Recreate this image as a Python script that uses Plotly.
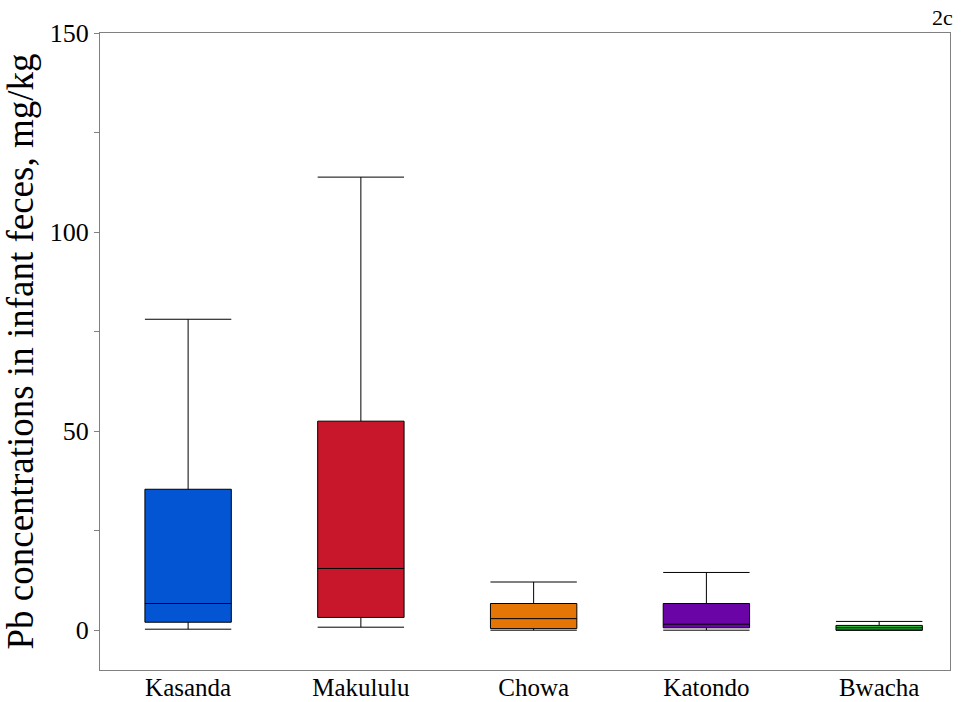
import plotly.graph_objects as go

# Pb in infant feces (mg/kg) by township: box summary statistics
sites = ["Kasanda", "Makululu", "Chowa", "Katondo", "Bwacha"]
lower_whisker = [0.25, 0.75, 0.0, 0.0, 0.0]
q1 = [2.0, 3.2, 0.4, 0.6, 0.0]
median = [6.7, 15.5, 2.9, 1.5, 0.6]
q3 = [35.4, 52.5, 6.7, 6.7, 1.2]
upper_whisker = [78.1, 113.8, 12.1, 14.5, 2.2]
colors = ["#0455D4", "#C8172A", "#E57505", "#6A04A6", "#28B436"]

y_ticks = [0, 50, 100, 150]

fig = go.Figure()
for i, name in enumerate(sites):
    fig.add_trace(go.Box(
        x=[i],
        q1=[q1[i]],
        median=[median[i]],
        q3=[q3[i]],
        lowerfence=[lower_whisker[i]],
        upperfence=[upper_whisker[i]],
        name=name,
        fillcolor=colors[i],
        line=dict(color="#000000", width=1),
        width=0.5,
        whiskerwidth=1,
        boxpoints=False,
        showlegend=False,
        hoverinfo="skip",
    ))

serif = "Liberation Serif, Times New Roman, serif"

fig.update_layout(
    width=961,
    height=702,
    margin=dict(l=100, r=11, t=33, b=32),
    plot_bgcolor="white",
    paper_bgcolor="white",
    font=dict(family=serif, color="#000000"),
    xaxis=dict(
        range=[-0.51, 4.41],
        tickmode="array",
        tickvals=list(range(len(sites))),
        ticktext=sites,
        showgrid=False,
        zeroline=False,
        showline=True,
        linecolor="#808080",
        linewidth=1,
        mirror=True,
        ticks="",
        automargin=False,
        ticklabelstandoff=-5,
        tickfont=dict(family=serif, size=25, color="#000000"),
    ),
    yaxis=dict(
        range=[-10, 150],
        tickmode="array",
        tickvals=y_ticks,
        ticktext=[str(v) for v in y_ticks],
        minor=dict(tickmode="linear", tick0=0, dtick=25, ticks="outside",
                   ticklen=5, tickcolor="#808080", showgrid=False),
        showgrid=False,
        zeroline=False,
        showline=True,
        linecolor="#808080",
        linewidth=1,
        mirror=True,
        ticks="outside",
        ticklen=5,
        tickcolor="#808080",
        automargin=False,
        tickfont=dict(family=serif, size=26, color="#000000"),
        title=dict(text="Pb concentrations in infant feces, mg/kg",
                   font=dict(family=serif, size=37, color="#000000"),
                   standoff=6),
    ),
    annotations=[dict(
        text="2c", x=1.0, y=1.0, xref="paper", yref="paper",
        xanchor="right", yanchor="bottom", xshift=5, yshift=1,
        showarrow=False,
        font=dict(family=serif, size=22, color="#000000"),
    )],
)

fig.write_html("out.html")
